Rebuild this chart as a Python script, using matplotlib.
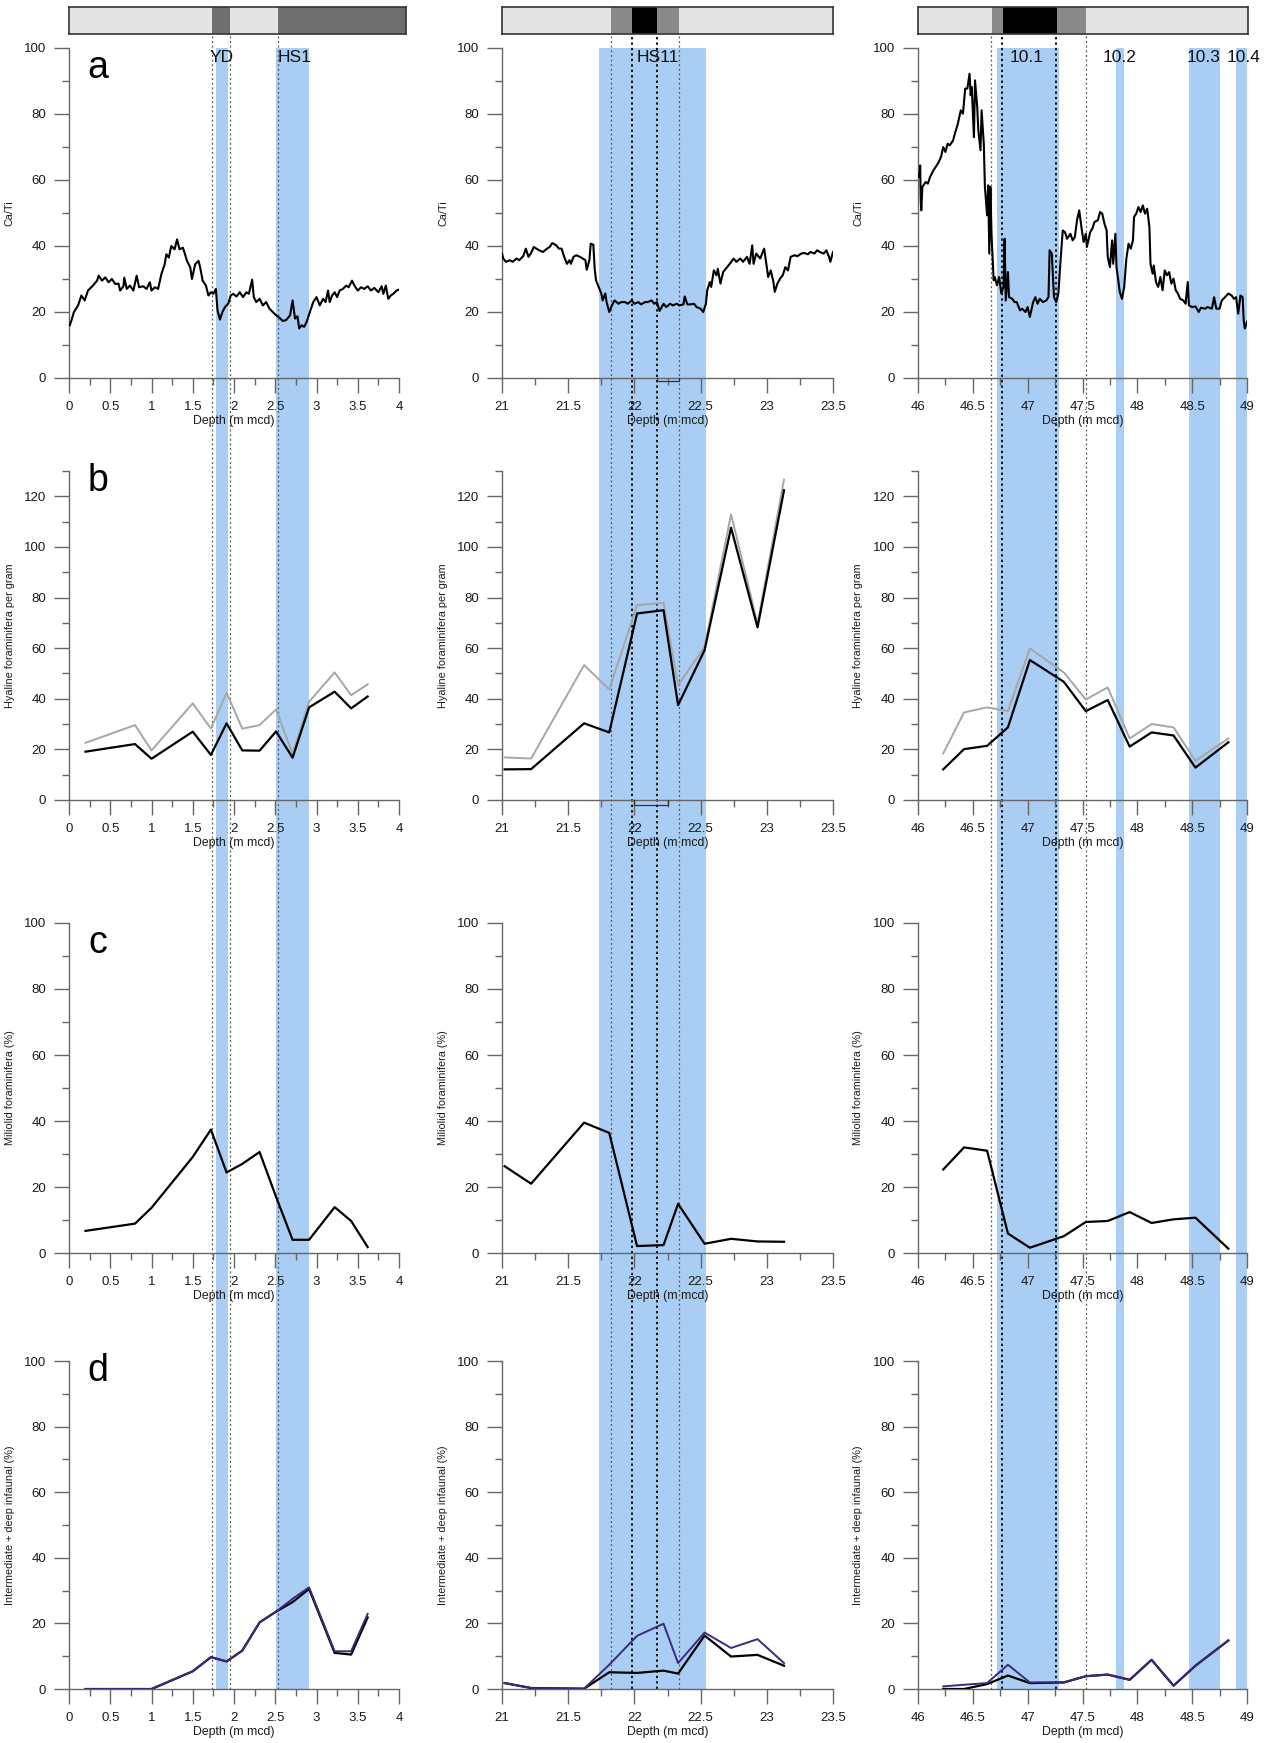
import matplotlib
matplotlib.use('Agg')
import matplotlib.pyplot as plt
from matplotlib.patches import Rectangle
from matplotlib.lines import Line2D
from matplotlib.transforms import blended_transform_factory
from matplotlib.ticker import MultipleLocator, FuncFormatter

plt.rcParams['font.family'] = ['Liberation Sans', 'DejaVu Sans']

# ---------------- DATA ----------------
# Panel a: Ca/Ti (XRF scans)
cati1_depth = [0.01, 0.03, 0.06, 0.11, 0.15, 0.19, 0.23, 0.29, 0.34, 0.36, 0.40, 0.44, 0.48, 0.52, 0.56,
               0.60, 0.62, 0.66, 0.67, 0.70, 0.74, 0.78, 0.82, 0.85, 0.90, 0.94, 0.98, 1.00, 1.04, 1.08,
               1.12, 1.16, 1.18, 1.21, 1.24, 1.28, 1.31, 1.34, 1.38, 1.40, 1.43, 1.47, 1.49, 1.53, 1.57,
               1.59, 1.62, 1.66, 1.69, 1.72, 1.75, 1.78, 1.80, 1.83, 1.86, 1.89, 1.93, 1.96, 1.99, 2.03,
               2.07, 2.11, 2.15, 2.18, 2.22, 2.24, 2.27, 2.31, 2.35, 2.39, 2.43, 2.47, 2.51, 2.55, 2.59,
               2.63, 2.68, 2.71, 2.74, 2.77, 2.79, 2.82, 2.85, 2.88, 2.92, 2.96, 3.00, 3.04, 3.08, 3.11,
               3.14, 3.16, 3.19, 3.22, 3.25, 3.28, 3.32, 3.36, 3.39, 3.43, 3.46, 3.50, 3.54, 3.58, 3.62,
               3.66, 3.70, 3.75, 3.79, 3.81, 3.84, 3.87, 3.90, 3.93, 3.97, 4.00]
cati1_value = [16.0, 17.5, 20.0, 22.0, 25.0, 23.5, 26.5, 28.0, 29.5, 31.0, 29.5, 30.5, 29.0, 30.0, 28.5,
               28.6, 26.5, 27.8, 30.4, 27.0, 28.0, 26.5, 31.0, 27.5, 27.8, 27.0, 29.0, 26.5, 27.5, 27.0,
               31.5, 34.5, 37.5, 36.5, 40.0, 39.0, 42.0, 39.0, 39.5, 38.0, 35.5, 33.5, 30.0, 34.5, 35.5,
               33.5, 29.5, 28.0, 25.0, 26.0, 25.5, 27.0, 20.5, 17.7, 20.0, 21.5, 22.5, 25.0, 25.5, 24.7,
               26.0, 24.5, 26.0, 25.5, 29.8, 24.5, 23.0, 24.0, 22.0, 23.0, 21.0, 20.0, 19.0, 18.3, 17.3,
               17.5, 19.0, 23.5, 18.0, 18.7, 15.0, 16.0, 15.5, 17.0, 20.0, 23.0, 24.5, 22.0, 24.0, 23.0,
               26.5, 23.0, 25.0, 26.0, 24.5, 26.5, 27.0, 28.0, 27.5, 29.5, 28.0, 26.5, 27.5, 27.0, 27.8,
               26.5, 27.3, 26.0, 27.8, 25.5, 28.0, 24.0, 25.0, 25.5, 26.5, 26.8]

cati2_depth = [21.00, 21.01, 21.03, 21.06, 21.08, 21.11, 21.13, 21.16, 21.18, 21.20, 21.22, 21.24, 21.26,
               21.28, 21.31, 21.34, 21.36, 21.38, 21.41, 21.43, 21.45, 21.47, 21.49, 21.51, 21.52, 21.54,
               21.56, 21.59, 21.61, 21.63, 21.64, 21.66, 21.67, 21.69, 21.70, 21.71, 21.73, 21.75, 21.76,
               21.78, 21.79, 21.81, 21.83, 21.85, 21.88, 21.90, 21.93, 21.95, 21.98, 22.00, 22.03, 22.05,
               22.08, 22.10, 22.13, 22.15, 22.17, 22.19, 22.22, 22.24, 22.27, 22.29, 22.32, 22.34, 22.37,
               22.38, 22.40, 22.42, 22.45, 22.47, 22.50, 22.52, 22.54, 22.55, 22.57, 22.58, 22.60, 22.62,
               22.63, 22.65, 22.67, 22.70, 22.72, 22.75, 22.77, 22.80, 22.82, 22.85, 22.87, 22.89, 22.90,
               22.92, 22.95, 22.98, 23.00, 23.01, 23.03, 23.05, 23.06, 23.08, 23.10, 23.12, 23.14, 23.16,
               23.18, 23.21, 23.23, 23.26, 23.28, 23.31, 23.33, 23.36, 23.38, 23.40, 23.43, 23.45, 23.47,
               23.48, 23.50]
cati2_value = [37.7, 36.2, 35.2, 35.7, 35.2, 36.2, 35.7, 36.9, 39.2, 36.7, 37.9, 39.7, 39.2,
               38.7, 38.2, 39.2, 39.7, 40.9, 40.2, 39.2, 39.2, 36.7, 34.6, 35.7, 34.6, 36.7,
               37.2, 36.7, 36.2, 35.7, 32.8, 35.7, 40.7, 40.4, 33.1, 29.6, 27.6, 25.6, 23.5,
               25.6, 23.0, 20.0, 22.0, 23.5, 22.5, 23.0, 23.0, 22.5, 23.5, 22.5, 23.0, 22.3,
               23.0, 23.0, 23.5, 22.5, 23.0, 20.3, 22.5, 21.5, 22.5, 22.0, 22.5, 22.0, 22.3,
               24.7, 22.3, 22.3, 22.5, 21.5, 21.0, 20.0, 22.5, 26.6, 29.1, 27.6, 32.6, 31.1,
               33.1, 28.6, 32.1, 33.6, 34.6, 36.2, 35.2, 36.2, 35.2, 36.7, 34.6, 40.2, 34.6,
               37.7, 36.2, 39.2, 33.6, 30.6, 32.6, 29.1, 26.1, 28.6, 30.1, 31.1, 33.6, 32.6,
               36.7, 37.2, 36.9, 37.7, 37.9, 37.5, 38.2, 37.7, 38.7, 38.2, 37.7, 38.7, 36.7,
               35.2, 38.2]

cati3_depth = [46.01, 46.02, 46.025, 46.03, 46.04, 46.07, 46.09, 46.11, 46.14, 46.17, 46.19, 46.21, 46.23,
               46.25, 46.27, 46.29, 46.32, 46.34, 46.36, 46.39, 46.41, 46.43, 46.45, 46.47, 46.48, 46.49,
               46.51, 46.52, 46.54, 46.55, 46.57, 46.58, 46.60, 46.61, 46.63, 46.64, 46.65, 46.66, 46.67,
               46.69, 46.70, 46.72, 46.74, 46.76, 46.78, 46.79, 46.80, 46.82, 46.83, 46.86, 46.88, 46.90,
               46.93, 46.95, 46.98, 47.00, 47.02, 47.05, 47.07, 47.09, 47.11, 47.14, 47.17, 47.19, 47.20,
               47.22, 47.24, 47.26, 47.28, 47.30, 47.32, 47.34, 47.36, 47.39, 47.41, 47.43, 47.45, 47.47,
               47.49, 47.51, 47.53, 47.54, 47.57, 47.59, 47.61, 47.64, 47.66, 47.68, 47.70, 47.72, 47.73,
               47.75, 47.77, 47.78, 47.80, 47.81, 47.84, 47.86, 47.88, 47.90, 47.92, 47.94, 47.96, 47.97,
               47.99, 48.01, 48.03, 48.05, 48.07, 48.09, 48.11, 48.12, 48.14, 48.15, 48.17, 48.19, 48.21,
               48.23, 48.25, 48.27, 48.29, 48.31, 48.33, 48.35, 48.37, 48.39, 48.42, 48.44, 48.46, 48.47,
               48.50, 48.53, 48.56, 48.58, 48.62, 48.64, 48.68, 48.70, 48.72, 48.75, 48.77, 48.80, 48.83,
               48.86, 48.88, 48.90, 48.92, 48.94, 48.96, 48.97, 48.98, 49.00]
cati3_value = [60.9, 64.4, 53.8, 50.8, 57.9, 59.4, 58.9, 60.9, 62.9, 64.4, 65.5, 67.0, 70.0,
               68.5, 71.0, 70.5, 72.0, 74.5, 76.6, 81.1, 80.1, 87.7, 87.7, 92.2, 85.7, 88.2,
               73.0, 90.2, 82.1, 75.1, 69.0, 81.1, 71.0, 57.9, 49.3, 58.4, 37.7, 57.9, 43.7,
               29.6, 30.6, 28.1, 30.6, 25.6, 27.6, 42.2, 23.5, 32.1, 24.5, 24.0, 23.0, 23.0,
               20.5, 21.0, 20.0, 21.5, 18.5, 23.0, 24.5, 22.5, 24.0, 23.0, 23.5, 24.5, 38.7,
               37.7, 24.5, 23.0, 25.6, 35.7, 44.7, 44.2, 42.2, 43.7, 41.7, 42.7, 47.8, 50.8,
               45.8, 41.2, 43.7, 39.7, 44.2, 45.3, 47.3, 47.8, 50.3, 49.8, 46.8, 44.7, 36.7,
               33.6, 41.7, 34.6, 43.7, 33.6, 26.1, 24.0, 27.6, 36.2, 40.7, 39.2, 41.7, 48.8,
               49.8, 51.8, 50.3, 52.3, 49.8, 51.3, 45.8, 34.6, 31.6, 34.1, 29.1, 27.6, 30.6,
               26.6, 32.6, 31.1, 32.1, 28.6, 30.1, 26.6, 25.6, 24.0, 23.5, 22.5, 29.1, 22.0,
               21.5, 21.7, 20.0, 21.3, 21.0, 21.5, 21.0, 24.5, 21.0, 21.0, 23.5, 24.5, 25.6,
               25.0, 24.0, 24.5, 19.5, 25.0, 24.5, 17.5, 15.0, 17.0]

# Panels b-d: foraminifera samples
sample1_depth = [0.2, 0.8, 1.0, 1.5, 1.72, 1.91, 2.1, 2.31, 2.51, 2.71, 2.91, 3.22, 3.42, 3.62]
sample2_depth = [21.02, 21.22, 21.62, 21.81, 22.02, 22.22, 22.33, 22.53, 22.73, 22.93, 23.13]
sample3_depth = [46.23, 46.42, 46.63, 46.82, 47.02, 47.33, 47.53, 47.73, 47.93, 48.13, 48.33, 48.53, 48.83]

hyaline1_black = [19.1, 22.1, 16.3, 27.0, 17.8, 30.3, 19.6, 19.5, 27.1, 16.7, 36.6, 42.8, 36.2, 40.9]
hyaline1_gray = [22.6, 29.6, 19.6, 38.2, 28.2, 42.4, 28.2, 29.6, 35.8, 18.2, 38.8, 50.4, 41.4, 45.7]
hyaline2_black = [12.1, 12.2, 30.3, 26.7, 73.7, 75.0, 37.5, 59.2, 107.6, 68.2, 122.4]
hyaline2_gray = [16.8, 16.4, 53.3, 43.7, 77.0, 77.9, 45.4, 60.5, 112.9, 69.7, 126.6]
hyaline3_black = [12.1, 20.1, 21.4, 28.7, 55.3, 46.7, 35.1, 39.5, 21.1, 26.7, 25.5, 12.8, 22.8]
hyaline3_gray = [18.4, 34.6, 36.6, 35.1, 59.9, 50.4, 39.7, 44.5, 24.3, 30.0, 28.7, 15.5, 24.3]

miliolid1 = [6.7, 8.9, 13.7, 29.1, 37.4, 24.4, 27.0, 30.6, 17.0, 4.0, 4.0, 13.9, 9.7, 1.8]
miliolid2 = [26.3, 21.0, 39.5, 36.4, 2.1, 2.4, 14.9, 2.8, 4.3, 3.5, 3.4]
miliolid3 = [25.3, 32.0, 31.0, 5.9, 1.6, 5.1, 9.4, 9.7, 12.4, 9.1, 10.2, 10.7, 1.3]

infaunal1_purple = [0, 0, 0, 5.4, 9.7, 8.4, 11.7, 20.3, 23.6, 27.5, 31.0, 11.5, 11.5, 22.9]
infaunal1_black = [0, 0, 0, 5.4, 9.7, 8.4, 11.7, 20.3, 23.6, 26.5, 30.5, 11.0, 10.5, 21.8]
infaunal2_purple = [1.8, 0.3, 0.1, 7.4, 16.2, 19.9, 7.9, 17.2, 12.5, 15.2, 7.9]
infaunal2_black = [1.8, 0.3, 0.1, 5.1, 4.9, 5.6, 4.7, 16.3, 9.9, 10.4, 7.1]
infaunal3_purple = [0.8, 1.3, 1.8, 7.4, 2.0, 2.0, 3.9, 4.4, 2.8, 8.9, 1.0, 7.1, 14.8]
infaunal3_black = [0.0, 0.0, 1.5, 4.1, 1.8, 2.0, 3.9, 4.4, 2.8, 8.9, 1.0, 7.1, 14.8]

# Event bands, boundaries, labels
blue_bands = [[(1.78, 1.93), (2.51, 2.91)],
              [(21.73, 22.54)],
              [(46.72, 47.29), (47.81, 47.88), (48.47, 48.75), (48.90, 49.0)]]
boundaries = [[(1.73, 'g'), (1.95, 'g'), (2.53, 'g')],
              [(21.82, 'g'), (21.98, 'k'), (22.17, 'k'), (22.34, 'g')],
              [(46.67, 'g'), (46.77, 'k'), (47.26, 'k'), (47.53, 'g')]]
event_labels = [[('YD', 1.85), ('HS1', 2.74)],
                [('HS11', 22.18)],
                [('10.1', 46.99), ('10.2', 47.84), ('10.3', 48.60), ('10.4', 48.97)]]
bar_edges = [[0, 1.73, 1.95, 2.53, 4.085],
             [21, 21.82, 21.98, 22.17, 22.34, 23.5],
             [46, 46.67, 46.77, 47.26, 47.53, 49.0]]
bar_colors = [['#e4e4e4', '#6f6f6f', '#e4e4e4', '#6f6f6f'],
              ['#e4e4e4', '#8a8a8a', '#000000', '#8a8a8a', '#e4e4e4'],
              ['#e4e4e4', '#8a8a8a', '#000000', '#8a8a8a', '#e4e4e4']]
bracket_a = (22.17, 22.34)
bracket_b = (22.0, 22.25)

xlims = [(0, 4), (21, 23.5), (46, 49)]
ylabels = ['Ca/Ti', 'Hyaline foraminifera per gram', 'Miliolid foraminifera (%)',
           'Intermediate + deep infaunal (%)']
panel_letters = ['a', 'b', 'c', 'd']

# ---------------- LAYOUT ----------------
W, H = 1271, 1743
fig = plt.figure(figsize=(W / 100, H / 100), dpi=100)

col_px = [(69, 399), (502, 833), (918, 1247)]
row_px = [(48, 378), (471, 800), (923, 1253), (1361, 1689)]
bar_px = [(69, 406), (502, 833), (918, 1248)]
bar_y = (7, 34)


def frect(x0, x1, y0, y1):
    return [x0 / W, 1 - y1 / H, (x1 - x0) / W, (y1 - y0) / H]


BLUE = '#a9cdf3'
SPINE = '#666666'
fmt = FuncFormatter(lambda v, p: f'{v:g}')

cati = [(cati1_depth, cati1_value), (cati2_depth, cati2_value), (cati3_depth, cati3_value)]
samples = [sample1_depth, sample2_depth, sample3_depth]
hyal = [(hyaline1_black, hyaline1_gray), (hyaline2_black, hyaline2_gray), (hyaline3_black, hyaline3_gray)]
mili = [miliolid1, miliolid2, miliolid3]
infa = [(infaunal1_black, infaunal1_purple), (infaunal2_black, infaunal2_purple),
        (infaunal3_black, infaunal3_purple)]

ylabel_x = [-0.164, -0.163, -0.167]

for c in range(3):
    cx0, cx1 = col_px[c]
    axes = []
    for r in range(4):
        ry0, ry1 = row_px[r]
        ax = fig.add_axes(frect(cx0, cx1, ry0, ry1))
        ax.set_facecolor('none')
        ax.set_xlim(*xlims[c])
        if r == 1:
            ax.set_ylim(0, 130)
        else:
            ax.set_ylim(0, 100)
        ax.yaxis.set_major_locator(MultipleLocator(20))
        ax.yaxis.set_minor_locator(MultipleLocator(10))
        ax.xaxis.set_major_locator(MultipleLocator(0.5))
        ax.xaxis.set_minor_locator(MultipleLocator(0.25))
        ax.xaxis.set_major_formatter(fmt)
        for s in ['top', 'right']:
            ax.spines[s].set_visible(False)
        for s in ['left', 'bottom']:
            ax.spines[s].set_color(SPINE)
            ax.spines[s].set_linewidth(1.0)
        ax.tick_params(which='major', length=11, width=1, color=SPINE, pad=5.5,
                       labelsize=9.5, labelcolor='#1a1a1a', direction='out')
        ax.tick_params(which='minor', length=5, width=1, color=SPINE, direction='out')
        ax.set_ylabel(ylabels[r], fontsize=7.8, color='#1a1a1a')
        ax.yaxis.set_label_coords(ylabel_x[c], 0.5)
        ax.set_xlabel('Depth (m mcd)', fontsize=8.8, color='#1a1a1a', labelpad=1.5)
        axes.append(ax)

    # data lines
    d, v = cati[c]
    axes[0].plot(d, v, color='black', lw=1.5, zorder=3)
    hb, hg = hyal[c]
    axes[1].plot(samples[c], hg, color='#a6a6a6', lw=1.4, zorder=3)
    axes[1].plot(samples[c], hb, color='black', lw=1.6, zorder=4)
    axes[2].plot(samples[c], mili[c], color='black', lw=1.6, zorder=3)
    ib, ip = infa[c]
    axes[3].plot(samples[c], ib, color='black', lw=1.6, zorder=3)
    axes[3].plot(samples[c], ip, color='#3b2a7e', lw=1.4, zorder=4)

    # HS11 brackets
    if c == 1:
        axes[0].plot([bracket_a[0], bracket_a[0], bracket_a[1], bracket_a[1]], [0, -1, -1, 0],
                     color='#333333', lw=0.9, clip_on=False, zorder=5)
        axes[1].plot([bracket_b[0], bracket_b[0], bracket_b[1], bracket_b[1]], [0, -2, -2, 0],
                     color='#333333', lw=0.9, clip_on=False, zorder=5)

    # panel letters (column 1 only)
    if c == 0:
        for r, ax in enumerate(axes):
            ytxt = [0.94, 0.97, 0.94, 0.97][r]
            ax.text(0.088, ytxt, panel_letters[r], transform=ax.transAxes, fontsize=27,
                    ha='center', va='center', color='black')

    # event labels
    for lab, xx in event_labels[c]:
        axes[0].text(xx, 97, lab, fontsize=12.5, ha='center', va='center', color='#111111', zorder=6)

    # blue bands and boundary lines spanning all panels
    trans = blended_transform_factory(axes[0].transData, fig.transFigure)
    ytop_blue = 1 - row_px[0][0] / H
    ybot = 1 - row_px[3][1] / H
    for (b0, b1) in blue_bands[c]:
        fig.add_artist(Rectangle((b0, ybot), b1 - b0, ytop_blue - ybot, transform=trans,
                                 facecolor=BLUE, edgecolor='none', zorder=-2))
    ytop_line = 1 - bar_y[1] / H
    for (bx, kind) in boundaries[c]:
        if kind == 'k':
            ln = Line2D([bx, bx], [ybot, ytop_line], transform=trans, color='#111111',
                        lw=1.4, linestyle=(0, (1.2, 1.6)), zorder=-1)
        else:
            ln = Line2D([bx, bx], [ybot, ytop_line], transform=trans, color='#555555',
                        lw=0.9, linestyle=(0, (1.5, 2.2)), zorder=-1)
        fig.add_artist(ln)

    # top bar
    bx0, bx1 = bar_px[c]
    bax = fig.add_axes(frect(bx0, bx1, bar_y[0], bar_y[1]))
    edges = bar_edges[c]
    bax.set_xlim(edges[0], edges[-1])
    bax.set_ylim(0, 1)
    for i, col in enumerate(bar_colors[c]):
        bax.axvspan(edges[i], edges[i + 1], color=col, lw=0)
    bax.set_xticks([])
    bax.set_yticks([])
    for s in bax.spines.values():
        s.set_color('#333333')
        s.set_linewidth(1.2)

fig.savefig('out.png', dpi=100, facecolor='white')
